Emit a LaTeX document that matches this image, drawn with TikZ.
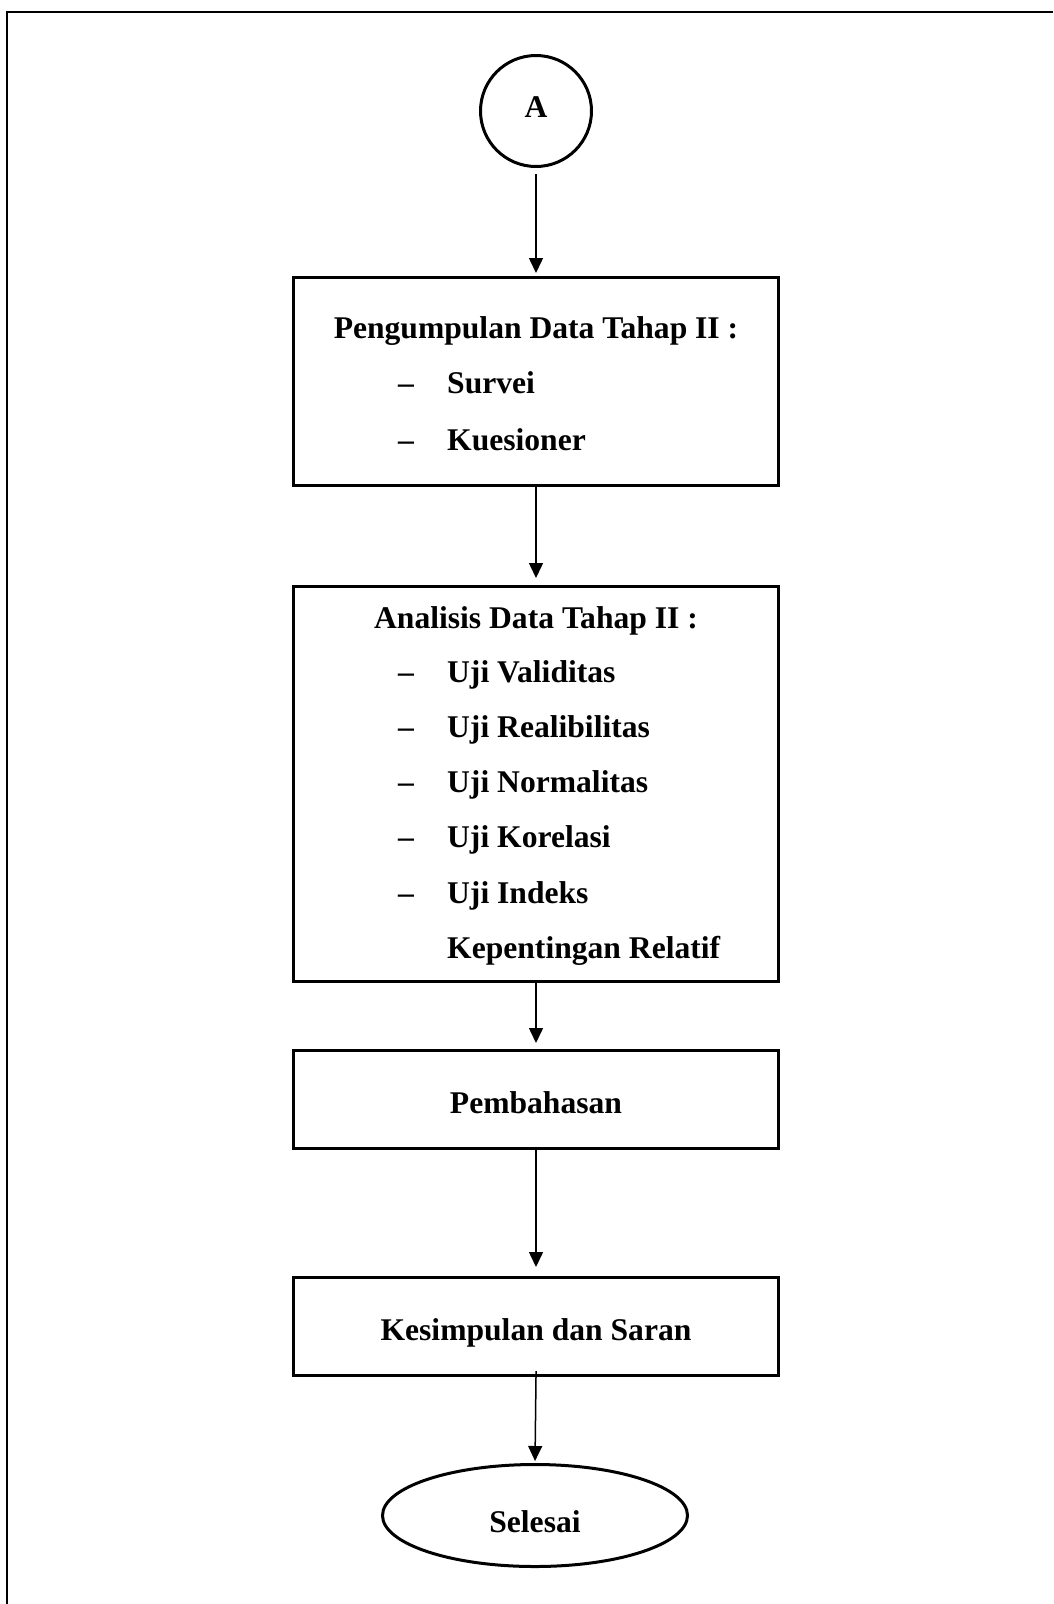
\documentclass[tikz,border=0pt]{standalone}
\usepackage{fontspec}
\setmainfont{Liberation Serif}
\usetikzlibrary{arrows.meta,shapes.geometric}
\begin{document}
\begin{tikzpicture}[x=1pt,y=-1pt,
  box/.style={draw,line width=3pt,minimum width=485pt,inner sep=0pt},
  txt/.style={font=\fontsize{31.6}{38}\bfseries\selectfont,inner sep=0pt},
  conn/.style={line width=1.5pt,-{Triangle[length=15pt,width=14pt]}},
]
\useasboundingbox (0,0) rectangle (1053,1604);
\draw[line width=2pt] (7,1604) -- (7,12) -- (1053,12);

% shapes
\node[draw,circle,line width=3pt,minimum size=111pt,inner sep=0pt] (cA) at (536,111) {};
\node[box,minimum height=208pt] (b1) at (536,381.5) {};
\node[box,minimum height=395pt] (b2) at (536,784) {};
\node[box,minimum height=98pt] (b3) at (536,1099.5) {};
\node[box,minimum height=98pt] (b4) at (536,1326.5) {};
\node[draw,ellipse,line width=3pt,minimum width=305pt,minimum height=102pt,inner sep=0pt] (end) at (535,1515.5) {};

% texts
\node[txt,anchor=base] (tA) at (536,117) {A};
\node[txt,anchor=base] (h1) at (536,338) {Pengumpulan Data Tahap II :};
\node[txt,anchor=base west] (i11) at (398,393) {\makebox[49pt][l]{–}Survei};
\node[txt,anchor=base west] (i12) at (398,450) {\makebox[49pt][l]{–}Kuesioner};

\node[txt,anchor=base] (h2) at (536,628) {Analisis Data Tahap II :};
\node[txt,anchor=base west] (i21) at (398,682) {\makebox[49pt][l]{–}Uji Validitas};
\node[txt,anchor=base west] (i22) at (398,737) {\makebox[49pt][l]{–}Uji Realibilitas};
\node[txt,anchor=base west] (i23) at (398,792) {\makebox[49pt][l]{–}Uji Normalitas};
\node[txt,anchor=base west] (i24) at (398,847) {\makebox[49pt][l]{–}Uji Korelasi};
\node[txt,anchor=base west] (i25) at (398,903) {\makebox[49pt][l]{–}Uji Indeks};
\node[txt,anchor=base west] (i26) at (447,958) {Kepentingan Relatif};

\node[txt,anchor=base] (t3) at (536,1113) {Pembahasan};
\node[txt,anchor=base] (t4) at (536,1340) {Kesimpulan dan Saran};
\node[txt,anchor=base] (tE) at (535,1532) {Selesai};

% connectors
\draw[conn,shorten <=6pt,shorten >=3pt] (cA.south) -- (b1.north);
\draw[conn,shorten >=7pt] (b1.south) -- (b2.north);
\draw[conn,shorten >=6pt] (b2.south) -- (b3.north);
\draw[conn,shorten <=-3pt,shorten >=9pt] (b3.south) -- (b4.north);
\draw[conn,shorten <=-6pt,shorten >=2pt] (b4.south) -- (end.north);
\end{tikzpicture}
\end{document}
